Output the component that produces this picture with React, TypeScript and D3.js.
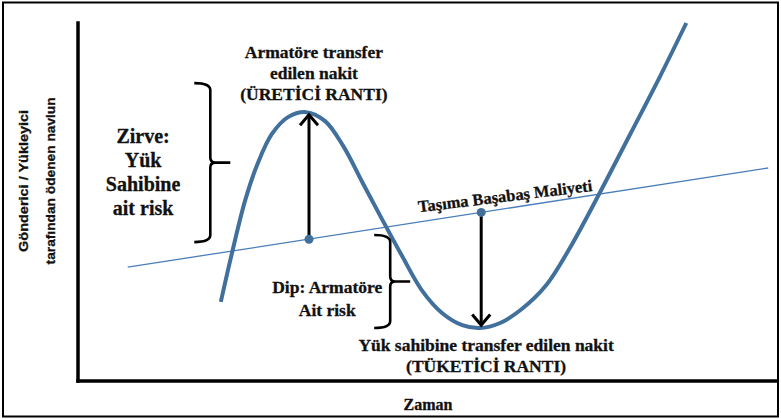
import * as d3 from 'd3';

// Freight curve (time 0..100, freight 0..100)
const TIME = [20.4, 22.1, 23.9, 25.7, 27.7, 30.0, 32.6, 35.3, 37.9, 40.6, 43.4, 46.3, 49.1, 52.0, 54.9, 57.4, 60.3, 63.4, 66.9, 70.6, 74.6, 78.9, 83.1, 86.9];
const FREIGHT = [22.1, 36.6, 50.6, 60.9, 69.0, 73.7, 75.1, 72.6, 65.6, 55.6, 45.3, 34.9, 25.4, 19.0, 15.6, 14.8, 16.2, 20.1, 26.8, 38.3, 52.8, 69.0, 84.9, 100];

// Break-even cost line (two end points)
const BREAKEVEN_T = [7.1, 98.6];
const BREAKEVEN_V = [31.8, 59.5];

// Rent arrows: start on break-even line, end at peak / trough
const RENT_T = [33.0, 57.6];
const RENT_FROM = [39.6, 47.1];
const RENT_TO = [74.8, 15.2];

// Risk brackets
const BRACKET_T = [18.9, 44.6];
const BRACKET_TOP = [83.2, 40.8];
const BRACKET_BOTTOM = [38.8, 14.8];

const PRODUCER_LINES = ['Armatöre transfer', 'edilen nakit', '(ÜRETİCİ RANTI)'];
const PEAK_LINES = ['Zirve:', 'Yük', 'Sahibine', 'ait risk'];
const DIP_LINES = ['Dip: Armatöre', 'Ait risk'];
const CONSUMER_LINES = ['Yük sahibine transfer edilen nakit', '(TÜKETİCİ RANTI)'];
const BREAKEVEN_LABEL = 'Taşıma Başabaş Maliyeti';
const X_TITLE = 'Zaman';
const Y_TITLE = ['Gönderici / Yükleyici', 'tarafından ödenen navlun'];

const W = 781;
const H = 419;
const BLUE = '#41709c';
const LINE_BLUE = '#4a7ebb';
const SERIF = '"Liberation Serif", "Times New Roman", serif';

export default function App() {
  const x = d3.scaleLinear().domain([0, 100]).range([78, 778]);
  const y = d3.scaleLinear().domain([0, 100]).range([381, 23]);

  const curve = d3.line<number>()
    .x((_, i) => x(TIME[i]))
    .y(d => y(d))
    .curve(d3.curveCatmullRom.alpha(0.5));

  const straight = d3.line<number>()
    .x((_, i) => x(BREAKEVEN_T[i]))
    .y(d => y(d));

  const bracketPath = (i: number) => {
    const bx = x(BRACKET_T[i]);
    const top = y(BRACKET_TOP[i]);
    const bot = y(BRACKET_BOTTOM[i]);
    const mid = (top + bot) / 2;
    return `M${bx - 16},${top} Q${bx},${top} ${bx},${top + 7}` +
      ` L${bx},${mid - 5} Q${bx},${mid} ${bx + 5},${mid} L${bx + 20},${mid}` +
      ` M${bx + 5},${mid} Q${bx},${mid} ${bx},${mid + 5}` +
      ` L${bx},${bot - 7} Q${bx},${bot} ${bx - 16},${bot}`;
  };

  const block = (lines: string[], t: number, v: number, size: number, lh: number) => (
    <text x={x(t)} y={y(v)} textAnchor="middle" fontFamily={SERIF} fontWeight="bold" fontSize={size}
      fill="#111" stroke="#111" strokeWidth={0.3}>
      {lines.map((l, i) => (
        <tspan key={i} x={x(t)} dy={i === 0 ? 0 : lh}>{l}</tspan>
      ))}
    </text>
  );

  const angle = -7;
  const bl = { t: 61.1, v: 50.1 };

  return (
    <svg width={W} height={H} style={{ position: 'absolute', left: 0, top: 0, background: '#fff' }}>
      <rect x={3} y={2.5} width={775} height={414} fill="#fff" stroke="#000" strokeWidth={2} />

      {/* axes */}
      <line x1={x(0)} x2={x(0)} y1={y(100)} y2={y(0)} stroke="#000" strokeWidth={3.5} strokeLinecap="square" />
      <line x1={x(0)} x2={x(100) - 1} y1={y(0)} y2={y(0)} stroke="#000" strokeWidth={3.5} strokeLinecap="square" />

      {/* break-even line */}
      <path d={straight(BREAKEVEN_V) ?? ''} fill="none" stroke={LINE_BLUE} strokeWidth={1.3} />

      {/* freight curve */}
      <path d={curve(FREIGHT) ?? ''} fill="none" stroke={BLUE} strokeWidth={4} />

      {/* rent arrows */}
      {RENT_T.map((t, i) => {
        const ax = x(t);
        const y0 = y(RENT_FROM[i]);
        const y1 = y(RENT_TO[i]);
        const dir = y1 < y0 ? 1 : -1;
        return (
          <g key={i}>
            <line x1={ax} x2={ax} y1={y0} y2={y1 + dir * 1.5} stroke="#000" strokeWidth={3} />
            <path d={`M${ax - 9},${y1 + dir * 12} L${ax},${y1 + dir * 1.5} L${ax + 9},${y1 + dir * 12}`}
              fill="none" stroke="#000" strokeWidth={3} />
            <circle cx={ax} cy={y0} r={4.5} fill={BLUE} />
          </g>
        );
      })}

      {/* brackets */}
      {BRACKET_T.map((_, i) => (
        <path key={i} d={bracketPath(i)} fill="none" stroke="#000" strokeWidth={2.6} />
      ))}

      {/* annotations */}
      {block(PRODUCER_LINES, 33.7, 90.2, 17.5, 21)}
      {block(PEAK_LINES, 9.3, 66.5, 20, 24)}
      {block(DIP_LINES, 35.6, 24.6, 17.5, 23)}
      {block(CONSUMER_LINES, 58.3, 8.4, 17.5, 21)}

      <text transform={`translate(${x(bl.t)},${y(bl.v)}) rotate(${angle})`} textAnchor="middle"
        fontFamily={SERIF} fontWeight="bold" fontSize={16.5} fill="#111" stroke="#111" strokeWidth={0.3}>{BREAKEVEN_LABEL}</text>

      <text x={x(50)} y={410} textAnchor="middle" fontFamily={SERIF} fontWeight="bold" fontSize={16}
        fill="#111" stroke="#111" strokeWidth={0.3}>{X_TITLE}</text>

      {Y_TITLE.map((l, i) => (
        <text key={i} transform={`translate(${28 + i * 27},${y(55.9)}) rotate(-90)`} textAnchor="middle"
          fontFamily='"Liberation Sans", Arial, sans-serif' fontWeight="bold" fontSize={13.5}
          textLength={i === 0 ? 142 : 167} lengthAdjust="spacingAndGlyphs" fill="#111"
          stroke="#111" strokeWidth={0.3}>{l}</text>
      ))}
    </svg>
  );
}
